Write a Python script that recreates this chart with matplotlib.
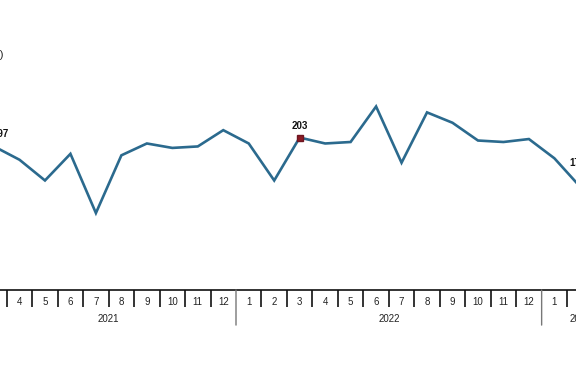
import matplotlib
matplotlib.use("Agg")
import matplotlib.pyplot as plt
from matplotlib.transforms import blended_transform_factory

plt.rcParams['font.family'] = ['Liberation Sans', 'DejaVu Sans']

# Data: monthly series from 2021-3 to 2023-2
years = [2021] * 10 + [2022] * 12 + [2023] * 2
months = [3, 4, 5, 6, 7, 8, 9, 10, 11, 12,
          1, 2, 3, 4, 5, 6, 7, 8, 9, 10, 11, 12,
          1, 2]
values = [197, 188, 174, 192, 152, 191, 199, 196, 197, 208,
          199, 174, 203, 199, 200, 224, 186, 220, 213, 201, 200, 202,
          189, 170]
# axis month labels (2023 segment includes month 3, off canvas)
tick_months = months + [3]
year_labels = ["2021", "2022", "2023"]
highlight_index = 12  # 2022-3
labeled_indices = [0, 12, 23]

W, H = 576, 375
fig = plt.figure(figsize=(W / 100, H / 100), dpi=100)

x0 = 1.5
x1 = 1.5 + len(tick_months)
px_per_unit = 25.47
left_px = 236 - (11.5 - x0) * px_per_unit
right_px = left_px + (x1 - x0) * px_per_unit
top_px, bottom_px = 68, 290
ax = fig.add_axes([left_px / W, 1 - bottom_px / H,
                   (right_px - left_px) / W, (bottom_px - top_px) / H])

xs = [x0 + 0.5 + i for i in range(len(values))]
line_color = '#2B6A8E'
ax.plot(xs, values, color=line_color, lw=1.9, solid_joinstyle='miter', zorder=3)
ax.plot(xs[highlight_index], values[highlight_index], marker='s', ms=4.2,
        color='#8B1A24', mec='#6E1520', zorder=4)

label_offsets = {0: (4.5, 5), 12: (0, 5), 23: (-2, 13)}
for i in labeled_indices:
    ax.annotate(str(values[i]), (xs[i], values[i]), xytext=label_offsets[i],
                textcoords='offset points', ha='center', va='bottom',
                fontsize=7, fontweight='bold', color='#111111')

ax.set_xlim(x0, x1)
ax.set_ylim(100, 250)
for s in ['top', 'right', 'left']:
    ax.spines[s].set_visible(False)
ax.spines['bottom'].set_linewidth(1.2)
ax.spines['bottom'].set_color('#111111')
ax.set_yticks([])

# month separators
seps = [x0 + k for k in range(1, len(tick_months))]
year_bounds = [x0]
for k in range(1, len(tick_months)):
    if tick_months[k] == 1:
        year_bounds.append(x0 + k)
year_bounds.append(x1)
month_seps = [s for s in seps if s not in year_bounds]
ax.set_xticks(month_seps)
ax.set_xticklabels([])
ax.tick_params(axis='x', direction='out', length=12, width=1.2, color='#111111')

trans = blended_transform_factory(ax.transData, ax.transAxes)
for yb in year_bounds[1:-1]:
    ax.annotate('', xy=(yb, 0), xycoords=trans, xytext=(yb, -0.158),
                textcoords=trans,
                arrowprops=dict(arrowstyle='-', color='#777777', lw=1.0,
                                shrinkA=0, shrinkB=0))

for k, m in enumerate(tick_months):
    ax.annotate(str(m), (x0 + 0.5 + k, 0), xycoords=trans, xytext=(0, -8.5),
                textcoords='offset points', ha='center', va='center',
                fontsize=7, color='#222222')

for j, yl in enumerate(year_labels):
    c = (year_bounds[j] + year_bounds[j + 1]) / 2
    ax.annotate(yl, (c, 0), xycoords=trans, xytext=(0, -20.8),
                textcoords='offset points', ha='center', va='center',
                fontsize=7, color='#222222')

fig.text(4 / W, 1 - 55 / H, '(Adet)', ha='right', va='center', fontsize=8, color='#222222')

fig.savefig('out.png', dpi=100)
